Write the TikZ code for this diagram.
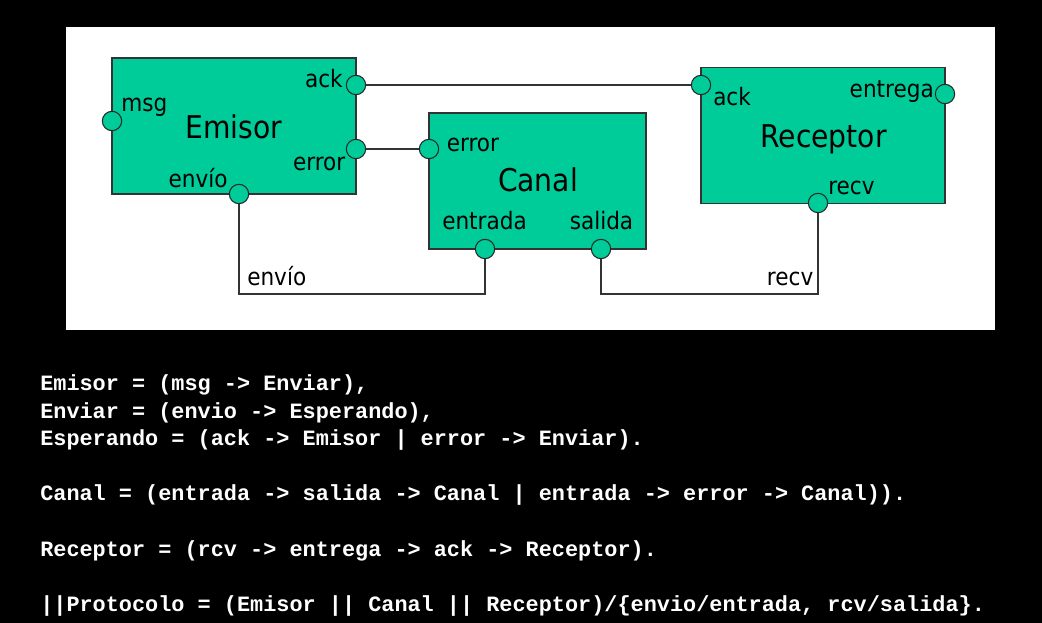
\documentclass[tikz,border=0pt]{standalone}
\usepackage{fontspec}
\setmainfont{DejaVu Sans Condensed}
\setmonofont{Liberation Mono}
\usetikzlibrary{positioning,calc}
\definecolor{boxgreen}{RGB}{0,204,153}
\tikzset{
 block/.style={draw=black!80,fill=boxgreen,line width=0.9pt,inner sep=0,
             minimum width=183pt,minimum height=102pt},
 port/.style={circle,draw=black!85,fill=boxgreen,line width=0.8pt,
             minimum size=14.5pt,inner sep=0},
 plabel/.style={inner sep=0,font=\fontsize{18}{20}\selectfont},
 title/.style={inner sep=0,anchor=base,font=\fontsize{23.5}{26}\selectfont},
 wire/.style={draw=black!80,line width=0.9pt},
 code/.style={anchor=base west,inner sep=0,text=white,
             font=\ttfamily\bfseries\fontsize{16.4}{18}\selectfont}
}

\begin{document}
\begin{tikzpicture}[x=0.75pt,y=-0.75pt]
\useasboundingbox (0,0) rectangle (1042,623);
\fill[black] (0,0) rectangle (1042,623);
\fill[white] (66,27) rectangle (995,330);
% processes
\node[block] (emisor) at (234,126) {};
\node[block,minimum width=162.75pt] (canal) at (537.5,181) {};
\node[block] (receptor) at (823,135.5) {};
\node[title] at (234,139) {Emisor};
\node[title] at (538,192) {Canal};
\node[title] at (823.5,148) {Receptor};
% ports
\node[port] (emAck) at (356,85) {};
\node[port] (emMsg) at (112,121) {};
\node[port] (emErr) at (356,149) {};
\node[port] (emEnv) at (239,194) {};
\node[port] (caErr) at (429,149) {};
\node[port] (caEnt) at (485,249) {};
\node[port] (caSal) at (601,249) {};
\node[port] (reAck) at (701,85) {};
\node[port] (reEnt) at (945,94) {};
\node[port] (reRecv) at (818,203) {};
\node[plabel,anchor=base east] at (343,88) {ack};
\node[plabel,anchor=base west] at (121,111.5) {msg};
\node[plabel,anchor=base east] at (345.5,170.5) {error};
\node[plabel,anchor=base] at (198,188) {envío};
\node[plabel,anchor=base west] at (446.5,151.5) {error};
\node[plabel,anchor=base] at (484.5,230) {entrada};
\node[plabel,anchor=base] at (601.5,230) {salida};
\node[plabel,anchor=base west] at (713,105.5) {ack};
\node[plabel,anchor=base east] at (934,98) {entrega};
\node[plabel,anchor=base west] at (828,195) {recv};
% links
\draw[wire] (emAck) -- (reAck);
\draw[wire] (emErr) -- (caErr);
\draw[wire] (emEnv) -- ++(0,100) -| (caEnt);
\draw[wire] (caSal) -- ++(0,45) -| (reRecv);
\node[plabel,anchor=base west] at (247,286) {envío};
\node[plabel,anchor=base east] at (813.5,286) {recv};
% FSP text
\node[code] (l1) at (40,391) {Emisor = (msg -> Enviar),};
\node[code] (l2) at (40,418.3) {Enviar = (envio -> Esperando),};
\node[code] (l3) at (40,445.7) {Esperando = (ack -> Emisor | error -> Enviar).};
\node[code] (l4) at (40,500.7) {Canal = (entrada -> salida -> Canal | entrada -> error -> Canal)).};
\node[code] (l5) at (40,556) {Receptor = (rcv -> entrega -> ack -> Receptor).};
\node[code] (l6) at (40,611) {||Protocolo = (Emisor || Canal || Receptor)/\{envio/entrada, rcv/salida\}.};
\end{tikzpicture}
\end{document}
